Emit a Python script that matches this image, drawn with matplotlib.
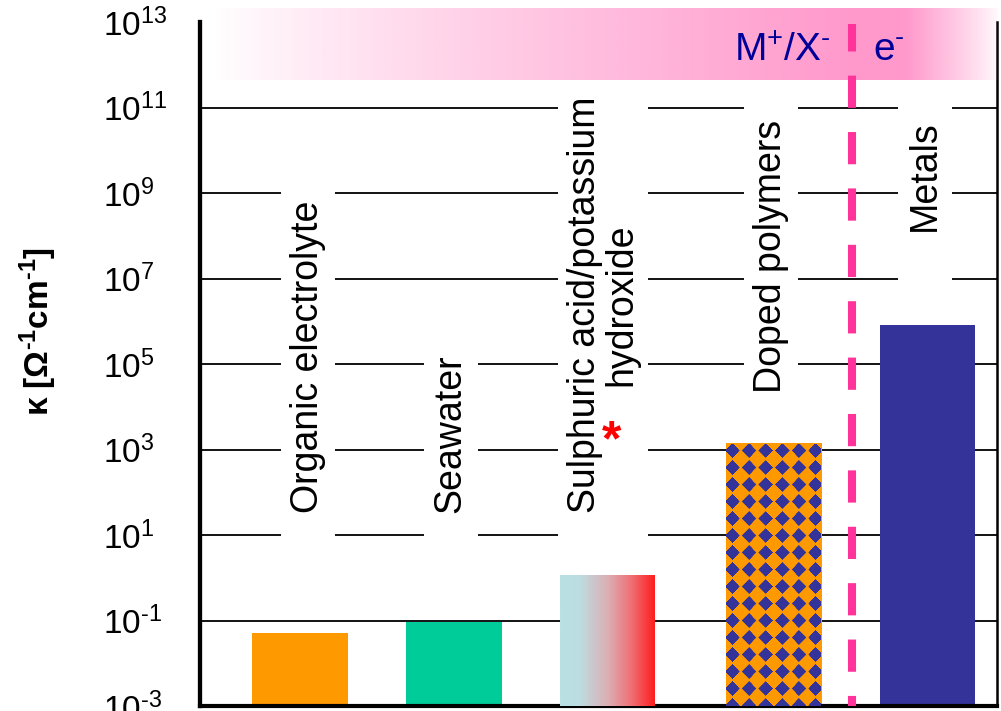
import numpy as np
import matplotlib
matplotlib.use("Agg")
import matplotlib.pyplot as plt
from matplotlib.colors import LinearSegmentedColormap, to_rgb
from matplotlib.path import Path

plt.rcParams["font.family"] = ["Liberation Sans", "DejaVu Sans"]
plt.rcParams["mathtext.fontset"] = "custom"
plt.rcParams["mathtext.rm"] = "Liberation Sans"
plt.rcParams["mathtext.bf"] = "Liberation Sans:bold"
plt.rcParams["mathtext.it"] = "Liberation Sans:italic"

# conductivity of the different conductor classes (Ohm^-1 cm^-1)
categories = ["Organic electrolyte", "Seawater",
              "Sulphuric acid/potassium\nhydroxide", "Doped polymers", "Metals"]
conductivity = [0.05, 0.09, 1.2, 1.4e3, 8.3e5]
tick_exponents = [-3, -1, 1, 3, 5, 7, 9, 11, 13]
carrier_labels = [r"$\mathregular{M^{+}/X^{‐}}$", r"$\mathregular{e^{‐}}$"]
ylabel = r"$\mathbf{κ\ [Ω^{‐1}cm^{‐1}]}$"

ORANGE = "#ff9900"
GREEN = "#00cc99"
NAVY = "#333399"
PINK = "#ff99cc"
DASH = "#ff3399"
TEXT_BLUE = "#000099"

bar_x = [0.0, 1.0, 2.0, 3.08, 4.08]
label_x = [0.05, 0.98, 1.97, 3.06, 4.06]
bar_w = 0.62
split_x = 3.59
y_floor = 10.0 ** tick_exponents[0]


def exp_label(e):
    return rf"$\mathregular{{10^{{{str(e).replace('-', '‐')}}}}}$"


def label_box(x0, y0, width, height, mutation_size):
    # long pad along the text, short pad across it
    pa = 1.6 * mutation_size
    pc = 0.24 * mutation_size
    verts = [(x0 - pa, y0 - pc), (x0 + width + pa, y0 - pc),
             (x0 + width + pa, y0 + height + pc), (x0 - pa, y0 + height + pc),
             (x0 - pa, y0 - pc)]
    return Path(verts, closed=True)


def diamond_texture(width_px, height_px, period_x=16.6, period_y=17.0,
                    offset_x=6.0, size=0.44, ss=3):
    xs = (np.arange(int(width_px * ss)) + 0.5) / ss
    ys = (np.arange(int(height_px * ss)) + 0.5) / ss
    u = (xs - offset_x) / period_x
    v = ys / period_y
    d = np.abs(u - np.round(u))[None, :] + np.abs(v - np.round(v))[:, None]
    return np.where((d < size)[..., None], to_rgb(NAVY), to_rgb(ORANGE))


fig = plt.figure(figsize=(10.01, 7.11), dpi=100)
ax = fig.add_axes([200 / 1001, 5 / 711, 797 / 1001, 684 / 711])
ax.set_yscale("log")
ax.set_xlim(-0.65, 4.53)
ax.set_ylim(10.0 ** tick_exponents[0], 10.0 ** tick_exponents[-1])
ax.set_autoscale_on(False)

# horizontal grid, inner decades only
for e in tick_exponents[1:-1]:
    ax.axhline(10.0 ** e, color="black", lw=1.3, zorder=0.5)

colors = [ORANGE, GREEN, "white", ORANGE, NAVY]
heights = [v - y_floor for v in conductivity]
bars = ax.bar(bar_x, heights, bottom=y_floor, width=bar_w, color=colors,
              edgecolor="none", zorder=2.5)

# acid/base bar: horizontal colour blend
acid_base = LinearSegmentedColormap.from_list(
    "acid_base", [(0.0, "#b9e0e4"), (0.2, "#bddde1"), (0.5, "#dcaeb3"),
                  (0.75, "#f06e73"), (1.0, "#ff1a1a")])
x0 = bar_x[2] - bar_w / 2
grad = ax.imshow(np.linspace(0, 1, 256)[None, :], cmap=acid_base,
                 extent=(x0, x0 + bar_w, 0, 1),
                 transform=ax.get_xaxis_transform(), aspect="auto",
                 interpolation="bilinear", zorder=2.6)
grad.set_clip_path(bars[2])

# doped polymers bar: diamond texture
x0 = bar_x[3] - bar_w / 2
px0 = ax.transData.transform((x0, 1.0))[0]
px1 = ax.transData.transform((x0 + bar_w, 1.0))[0]
ax_h_px = ax.get_window_extent().height
tex = ax.imshow(diamond_texture(px1 - px0, ax_h_px), origin="lower",
                extent=(x0, x0 + bar_w, 0, 1),
                transform=ax.get_xaxis_transform(), aspect="auto",
                interpolation="bilinear", zorder=2.6)
tex.set_clip_path(bars[3])

# category labels on white boxes
box = dict(facecolor="white", edgecolor="none", boxstyle=label_box)
xt = ax.get_xaxis_transform()
for i, name in enumerate(categories):
    if i < 3:
        y, va = 0.282, "bottom"
    else:
        y, va = 0.857, "top"
    ax.text(label_x[i], y, name, transform=xt, rotation=90, ha="center",
            va=va, multialignment="center", linespacing=1.0, fontsize=27,
            bbox=box, zorder=2)
ax.text(bar_x[2] + 0.026, 0.367, "*", transform=xt, color="red",
        fontsize=36, fontweight="bold", ha="center", va="baseline", zorder=3.5)

# ionic / electronic divider
ax.axvline(split_x, ymin=0, ymax=0.997, color=DASH, lw=5.8,
           ls=(2.75, (4, 3)), zorder=6, clip_on=False)

# carrier band above the plot
xs = np.linspace(0, 1, 800)
alpha = np.interp(xs, [0.0, 0.81, 0.88, 1.0], [0.0, 1.0, 1.0, 0.0]) ** 0.85
band = np.zeros((1, xs.size, 4))
band[..., :3] = to_rgb(PINK)
band[..., 3] = alpha
ax.imshow(band, extent=(0.019, 1.004, 0.915, 1.019), transform=ax.transAxes,
          aspect="auto", interpolation="bilinear", zorder=5, clip_on=False)
ax.text(0.731, 0.943, carrier_labels[0], transform=ax.transAxes,
        color=TEXT_BLUE, fontsize=28, ha="center", va="baseline", zorder=7)
ax.text(0.864, 0.943, carrier_labels[1], transform=ax.transAxes,
        color=TEXT_BLUE, fontsize=28, ha="center", va="baseline", zorder=7)

# axes styling
ax.set_xticks([])
ax.set_yticks([10.0 ** e for e in tick_exponents])
ax.set_yticklabels([exp_label(e) for e in tick_exponents])
ax.minorticks_off()
ax.tick_params(axis="y", length=0, pad=70, labelsize=24)
for lab in ax.get_yticklabels():
    lab.set_horizontalalignment("left")
ax.spines["top"].set_visible(False)
ax.spines["left"].set_linewidth(3.1)
ax.spines["bottom"].set_linewidth(3.0)
ax.spines["right"].set_linewidth(1.8)
ax.text(-0.203, 0.547, ylabel, transform=ax.transAxes, rotation=90,
        ha="center", va="center", fontsize=24)

fig.savefig("out.png", dpi=100)
